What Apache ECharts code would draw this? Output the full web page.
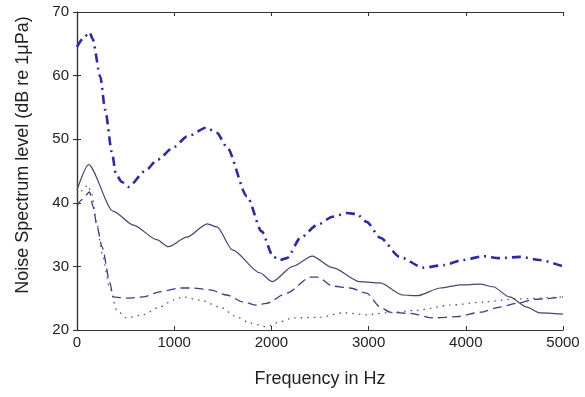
<!DOCTYPE html>
<html>
<head>
<meta charset="utf-8">
<script src="https://cdn.jsdelivr.net/npm/echarts@6/dist/echarts.min.js"></script>
<style>
  html, body { margin: 0; padding: 0; background: #fff; }
  #main { width: 585px; height: 397px; }
</style>
</head>
<body>
<div id="main"></div>
<script>
// Frequency (Hz) / level (dB), one pair of arrays per curve
const dashDotX = [0, 60, 130, 160, 240, 290, 360, 400, 460, 530, 700, 830, 1000, 1130, 1330, 1440, 1540, 1750, 1900, 2020, 2090, 2160, 2300, 2470, 2630, 2780, 2880, 2980, 3120, 3320, 3560, 3770, 3970, 4180, 4350, 4560, 4760, 5000];
const dashDotY = [64.5, 65.8, 66.8, 65.8, 59.8, 54.6, 47.9, 44.5, 43.3, 42.5, 45.0, 46.8, 48.8, 50.4, 51.8, 51.0, 48.8, 41.0, 35.5, 31.5, 31.0, 31.3, 34.5, 36.5, 37.8, 38.4, 38.2, 37.0, 34.5, 31.5, 29.8, 30.2, 31.0, 31.6, 31.3, 31.5, 31.0, 30.0];

const solidX = [0, 120, 370, 580, 820, 940, 1130, 1340, 1440, 1600, 1880, 2010, 2220, 2420, 2630, 2910, 3120, 3350, 3500, 3740, 3940, 4150, 4280, 4450, 4630, 4760, 5000];
const solidY = [42.0, 46.0, 38.7, 36.5, 34.2, 33.1, 34.6, 36.7, 36.2, 32.6, 29.0, 27.6, 30.0, 31.6, 29.8, 27.6, 27.4, 25.5, 25.4, 26.6, 27.1, 27.2, 26.8, 25.2, 23.6, 22.7, 22.5];

const dashedX = [0, 50, 130, 165, 206, 257, 340, 370, 510, 680, 850, 1060, 1190, 1370, 1540, 1710, 1850, 1950, 2160, 2400, 2480, 2630, 2810, 2980, 3120, 3220, 3430, 3660, 3910, 4150, 4350, 4530, 4700, 5000];
const dashedY = [39.5, 40.5, 41.7, 39.4, 36.3, 33.1, 27.4, 25.2, 25.0, 25.2, 26.0, 26.6, 26.6, 26.3, 25.5, 24.4, 23.9, 24.2, 25.8, 28.3, 28.3, 26.9, 26.6, 25.8, 23.6, 22.8, 22.6, 21.9, 22.1, 22.8, 23.6, 24.2, 24.8, 25.2];

const dottedX = [0, 60, 110, 150, 200, 260, 330, 410, 510, 680, 850, 990, 1090, 1270, 1470, 1650, 1780, 1950, 2090, 2220, 2500, 2740, 2980, 3190, 3500, 3840, 4180, 4530, 5000];
const dottedY = [41.0, 42.0, 42.8, 41.5, 37.0, 32.0, 27.0, 23.1, 21.9, 22.4, 23.6, 24.7, 25.2, 24.7, 23.6, 22.0, 21.1, 20.5, 21.3, 21.9, 22.0, 22.7, 22.4, 22.7, 23.1, 23.9, 24.4, 24.9, 25.2];

const xTicks = { min: 0, max: 5000, interval: 1000 };
const yTicks = { min: 20, max: 70, interval: 10 };

function pairs(xs, ys) {
  return xs.map((x, i) => [x, ys[i]]);
}

const font = "'Liberation Sans', Arial, sans-serif";

function mkSeries(xs, ys, color, width, type) {
  return {
    type: "line",
    data: pairs(xs, ys),
    showSymbol: false,
    smooth: 0.25,
    smoothMonotone: "x",
    lineStyle: { color: color, width: width, type: type },
    silent: true,
  };
}

const axisLine = { show: true, lineStyle: { color: "#333", width: 1.2 } };
const axisTick = { show: true, inside: true, length: 4, lineStyle: { color: "#333" } };

var myChart = echarts.init(document.getElementById("main"), null, { renderer: "canvas" });

myChart.setOption({
  animation: false,
  backgroundColor: "#fff",
  grid: { left: 77, right: 22, top: 12, bottom: 67 },
  xAxis: [
    {
      type: "value",
      min: xTicks.min, max: xTicks.max, interval: xTicks.interval,
      position: "bottom",
      axisLine: axisLine,
      axisTick: axisTick,
      splitLine: { show: false },
      axisLabel: { color: "#222", fontSize: 15, fontFamily: font, margin: 5, formatter: (v) => String(v) },
      name: "Frequency in Hz",
      nameLocation: "middle",
      nameGap: 40,
      nameTextStyle: { color: "#222", fontSize: 18, fontFamily: font },
    },
    {
      type: "value",
      min: xTicks.min, max: xTicks.max, interval: xTicks.interval,
      position: "top",
      axisLine: axisLine,
      axisTick: axisTick,
      splitLine: { show: false },
      axisLabel: { show: false },
    },
  ],
  yAxis: [
    {
      type: "value",
      min: yTicks.min, max: yTicks.max, interval: yTicks.interval,
      position: "left",
      axisLine: axisLine,
      axisTick: axisTick,
      splitLine: { show: false },
      axisLabel: { color: "#222", fontSize: 15, fontFamily: font, margin: 8 },
      name: "Noise Spectrum level (dB re 1\u03bcPa)",
      nameLocation: "middle",
      nameGap: 45,
      nameTextStyle: { color: "#222", fontSize: 18, fontFamily: font, padding: [0, 0, 0, 32] },
    },
    {
      type: "value",
      min: yTicks.min, max: yTicks.max, interval: yTicks.interval,
      position: "right",
      axisLine: axisLine,
      axisTick: axisTick,
      splitLine: { show: false },
      axisLabel: { show: false },
    },
  ],
  series: [
    mkSeries(dottedX, dottedY, "#555566", 1.3, [1.5, 5]),
    mkSeries(dashedX, dashedY, "#3c3c80", 1.3, [9, 5]),
    mkSeries(solidX, solidY, "#45456e", 1.2, "solid"),
    mkSeries(dashDotX, dashDotY, "#2c2c9c", 2.6, [9, 5, 2, 5]),
  ],
});
</script>
</body>
</html>
